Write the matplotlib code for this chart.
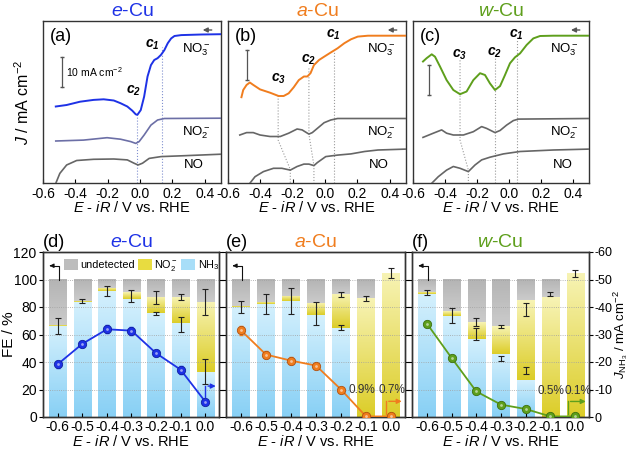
import numpy as np
import matplotlib
matplotlib.use("Agg")
import matplotlib.pyplot as plt
from matplotlib.colors import LinearSegmentedColormap
from matplotlib.patches import Patch

plt.rcParams['font.family'] = ['Liberation Sans', 'DejaVu Sans']
plt.rcParams['mathtext.fontset'] = 'custom'
plt.rcParams['mathtext.rm'] = 'Liberation Sans'
plt.rcParams['mathtext.it'] = 'Liberation Sans:italic'
plt.rcParams['mathtext.bf'] = 'Liberation Sans:italic:bold'
plt.rcParams['axes.unicode_minus'] = False

# ---------------- LSV curves (J with stacking offsets, mA cm-2) ----------------
a_no3_x = [-0.521, -0.454, -0.371, -0.2875, -0.225, -0.1625, -0.121, -0.079, -0.048, -0.027, -0.017,
           0.004, 0.025, 0.046, 0.067, 0.0875, 0.108, 0.129, 0.15, 0.171, 0.192, 0.2125, 0.254, 0.379, 0.5]
a_no3_y = [25.6, 26.1, 27.2, 27.8, 28.0, 27.6, 26.7, 25.6, 24.2, 23.0, 22.8,
           24.4, 28.9, 35.6, 39.4, 41.1, 41.7, 42.8, 44.4, 46.7, 48.3, 49.1, 49.4, 49.6, 49.7]
a_no2_x = [-0.521, -0.35, -0.204, -0.121, -0.058, -0.027, -0.006, 0.025, 0.067, 0.108, 0.15, 0.5]
a_no2_y = [14.1, 14.4, 15.2, 14.7, 13.9, 13.3, 13.9, 16.1, 19.4, 21.1, 21.6, 21.7]
a_no_x = [-0.521, -0.496, -0.454, -0.392, -0.2875, -0.1625, -0.079, -0.0375, -0.0125, 0.015, 0.056,
          0.129, 0.275, 0.5]
a_no_y = [0.0, 3.3, 6.1, 7.6, 8.0, 8.1, 7.8, 6.7, 6.1, 6.7, 8.3, 8.9, 9.2, 9.7]

b_no3_x = [-0.517, -0.506, -0.485, -0.465, -0.444, -0.402, -0.340, -0.2875, -0.256, -0.225, -0.194,
           -0.1625, -0.131, -0.110, -0.090, -0.069, -0.0375, -0.006, 0.035, 0.077, 0.119, 0.160,
           0.202, 0.265, 0.5]
b_no3_y = [28.7, 31.1, 32.8, 33.6, 32.8, 31.3, 30.2, 29.1, 29.1, 30.0, 32.0, 34.4, 35.6, 35.6, 36.7,
           39.4, 41.1, 42.2, 43.6, 45.0, 46.7, 48.0, 48.9, 49.2, 49.2]
b_no2_x = [-0.527, -0.485, -0.444, -0.402, -0.340, -0.277, -0.225, -0.173, -0.142, -0.1, -0.079,
           -0.048, -0.006, 0.035, 0.077, 0.5]
b_no2_y = [16.1, 16.9, 16.9, 16.1, 15.6, 15.6, 16.7, 18.1, 17.8, 16.4, 16.9, 18.3, 20.2, 21.1, 21.6, 21.6]
b_no_x = [-0.465, -0.433, -0.381, -0.319, -0.267, -0.215, -0.173, -0.131, -0.1, -0.069, -0.048,
          0.004, 0.077, 0.160, 0.244, 0.327, 0.5]
b_no_y = [0.0, 2.2, 3.9, 5.0, 5.0, 4.4, 5.6, 6.4, 6.4, 5.9, 6.9, 8.9, 9.4, 9.8, 10.6, 11.1, 11.4]

c_no3_x = [-0.5375, -0.515, -0.483, -0.4625, -0.431, -0.390, -0.348, -0.306, -0.265, -0.223, -0.181,
           -0.15, -0.119, -0.0875, -0.056, -0.025, 0.006, 0.0375, 0.069, 0.110, 0.152, 0.194, 0.277, 0.5]
c_no3_y = [40.6, 41.7, 43.0, 42.2, 38.9, 34.4, 31.1, 29.7, 30.6, 34.4, 36.7, 36.1, 33.3, 31.1, 32.4,
           36.1, 40.0, 42.0, 43.3, 46.1, 48.3, 49.1, 49.2, 49.2]
c_no2_x = [-0.5375, -0.473, -0.421, -0.390, -0.348, -0.285, -0.223, -0.171, -0.140, -0.0875, -0.056,
           -0.015, 0.027, 0.058, 0.5]
c_no2_y = [15.3, 16.7, 17.8, 16.7, 16.1, 16.1, 17.2, 18.9, 18.3, 16.9, 17.6, 19.4, 20.9, 21.4, 21.6]
c_no_x = [-0.483, -0.442, -0.390, -0.348, -0.306, -0.254, -0.2125, -0.171, -0.119, -0.035, 0.069,
          0.277, 0.5]
c_no_y = [0.0, 2.2, 4.4, 5.6, 5.0, 3.9, 6.1, 7.8, 8.7, 9.8, 10.6, 11.1, 11.4]

# ---------------- FE bars ----------------
volt = [-0.6, -0.5, -0.4, -0.3, -0.2, -0.1, 0.0]

nh3_e = [66.0, 83.5, 91.5, 86.0, 75.5, 68.5, 32.7]
no2_e = [0.8, 1.2, 2.5, 5.0, 12.0, 18.5, 51.0]
nh3_a = [80.0, 82.0, 84.0, 74.0, 64.4, 0.0, 0.0]
no2_a = [1.0, 1.5, 4.0, 9.0, 25.0, 86.5, 104.6]
nh3_w = [89.4, 73.4, 57.0, 46.0, 27.0, 0.0, 0.0]
no2_w = [1.6, 3.6, 12.0, 20.0, 58.0, 87.0, 104.4]

# error bars (center, half range); 0 half range = no bar
eb1_y_e = [66.2, 84.2, 91.4, 87.9, 87.0, 87.3, 83.7]
eb1_d_e = [6.0, 1.4, 3.6, 4.3, 4.5, 2.0, 9.7]
eb2_y_e = [0, 0, 0, 0, 75.3, 67.3, 33.3]
eb2_d_e = [0, 0, 0, 0, 1.0, 5.5, 9.1]
eb1_y_a = [80.1, 82.3, 84.5, 75.5, 89.2, 86.3, 104.7]
eb1_d_a = [4.6, 7.3, 9.5, 8.5, 1.6, 2.0, 3.5]
eb2_y_a = [0, 0, 0, 0, 64.8, 0, 0]
eb2_d_a = [0, 0, 0, 0, 1.8, 0, 0]
eb1_y_w = [90.6, 73.8, 69.3, 65.8, 78.0, 89.5, 104.5]
eb1_d_w = [1.7, 5.3, 2.8, 1.0, 4.7, 1.5, 2.5]
eb2_y_w = [0, 0, 60.5, 42.6, 34.0, 0, 0]
eb2_d_w = [0, 0, 4.3, 2.0, 2.5, 0, 0]

# NH3 partial current density, mA cm-2
j_e = [-19.2, -26.6, -31.9, -31.4, -23.2, -17.2, -5.6]
j_a = [-31.5, -22.7, -20.5, -18.7, -10.0, -0.2, -0.2]
j_w = [-34.0, -21.5, -9.3, -4.5, -2.9, -0.2, -0.2]
jerr_e = [1.2, 1.0, 1.5, 1.5, 1.0, 1.5, 0.6]
jerr_a = [1.5, 1.2, 1.2, 0.8, 0.6, 0.2, 0.2]
jerr_w = [0.8, 1.0, 0.6, 0.5, 0.4, 0.2, 0.2]

C_E, C_A, C_W = '#1e32e6', '#f07d1e', '#5e9f1c'

fig = plt.figure(figsize=(6.33, 4.51), dpi=100)


def px_axes(l, t, r, b):
    return fig.add_axes([l / 633, 1 - b / 451, (r - l) / 633, (b - t) / 451])


# cmap(0) = top of segment, cmap(1) = bottom of segment
cm_blue = LinearSegmentedColormap.from_list('b', ['#d4f0fd', '#88d0f5'])
cm_yel = LinearSegmentedColormap.from_list('y', ['#f7f3b4', '#dccd28'])
cm_gray = LinearSegmentedColormap.from_list('g', ['#b4b4b4', '#cbcbcb'])
grad = np.linspace(1, 0, 64).reshape(-1, 1)


def grad_bar(ax, x, y0, y1, cmap, w=0.07):
    if y1 - y0 <= 0.05:
        return
    ax.imshow(grad, cmap=cmap, aspect='auto', origin='lower', interpolation='bilinear',
              extent=(x - w / 2, x + w / 2, y0, y1), zorder=1)


def style_spines(ax):
    for s in ax.spines.values():
        s.set_color('#333333')
        s.set_linewidth(1.0)


# ---------------- top row ----------------
top = [
    ((43, 20.7, 221, 183.3), '(a)', r'$\it{e}$-Cu', C_E,
     [(a_no3_x, a_no3_y, C_E), (a_no2_x, a_no2_y, '#6c6fa6'), (a_no_x, a_no_y, '#666666')]),
    ((228, 20.7, 406, 183.3), '(b)', r'$\it{a}$-Cu', C_A,
     [(b_no3_x, b_no3_y, C_A), (b_no2_x, b_no2_y, '#666666'), (b_no_x, b_no_y, '#666666')]),
    ((413, 20.7, 589, 183.3), '(c)', r'$\it{w}$-Cu', C_W,
     [(c_no3_x, c_no3_y, C_W), (c_no2_x, c_no2_y, '#666666'), (c_no_x, c_no_y, '#666666')]),
]
top_axes = []
for pos, lab, title, col, curves in top:
    ax = px_axes(*pos)
    for x, y, c in curves:
        ax.plot(x, y, color=c, lw=1.4 if c == col else 1.2, zorder=3)
    ax.set_xlim(-0.6, 0.5)
    ax.set_ylim(0, 54.2)
    ax.set_xticks([-0.6, -0.4, -0.2, 0.0, 0.2, 0.4])
    ax.set_xticklabels(['-0.6', '-0.4', '-0.2', '0.0', '0.2', '0.4'])
    ax.set_yticks([])
    ax.tick_params(axis='x', direction='in', length=3, labelsize=10, pad=3)
    ax.set_xlabel(r'$E$ - $iR$ / V vs. RHE', fontsize=10.5)
    ax.xaxis.set_label_coords(0.5, -0.105)
    ax.text(0.5, 1.055, title, transform=ax.transAxes, ha='center', va='center', fontsize=14, color=col)
    ax.text(0.04, 0.9, lab, transform=ax.transAxes, ha='left', va='center', fontsize=13)
    ax.text(0.345, 44.4, r'NO$_3^-$', fontsize=9.5, ha='center', va='center')
    ax.text(0.345, 16.7, r'NO$_2^-$', fontsize=9.5, ha='center', va='center')
    ax.text(0.335, 6.1, 'NO', fontsize=9.5, ha='center', va='center')
    ax.annotate('', xy=(0.37, 51.1), xytext=(0.46, 51.1),
                arrowprops=dict(arrowstyle='-|>', color='#555555', lw=1.0, mutation_scale=7))
    style_spines(ax)
    top_axes.append(ax)

axa, axb, axc = top_axes
axa.set_ylabel(r'$J$ / mA cm$^{-2}$', fontsize=11.5)
axa.yaxis.set_label_coords(-0.06, 0.5)

# scale bars (10 mA cm-2)
axa.plot([-0.48, -0.48], [32.2, 42.2], color='#555555', lw=0.9, marker='_', ms=3)
axa.text(-0.455, 37.2, r'10 mA cm$^{-2}$', fontsize=7.5, va='center')
axb.plot([-0.485, -0.485], [34.4, 44.4], color='#555555', lw=0.9, marker='_', ms=3)
axc.plot([-0.498, -0.498], [29.4, 39.4], color='#555555', lw=0.9, marker='_', ms=3)

# dotted guide lines
kw_e = dict(color='#8090d0', lw=0.8, ls=':', zorder=2)
kw_g = dict(color='#9a9a9a', lw=0.8, ls=':', zorder=2)
axa.plot([-0.017, -0.017], [0, 22.5], **kw_e)
axa.plot([0.133, 0.133], [0, 45.5], **kw_e)
axa.text(0.077, 46.1, r'$\mathbf{c}_\mathbf{1}$', fontsize=10, ha='center', va='center')
axa.text(-0.04, 31.0, r'$\mathbf{c}_\mathbf{2}$', fontsize=10, ha='center', va='center')

axb.plot([0.056, 0.056], [0, 44.4], **kw_g)
axb.plot([-0.1, -0.1, -0.069, -0.069], [38.3, 16.4, 5.9, 0], **kw_g)
axb.plot([-0.29, -0.29, -0.215, -0.215], [29.2, 14.4, 4.6, 0], **kw_g)
axb.text(0.052, 49.4, r'$\mathbf{c}_\mathbf{1}$', fontsize=10, ha='center', va='center')
axb.text(-0.1, 41.1, r'$\mathbf{c}_\mathbf{2}$', fontsize=10, ha='center', va='center')
axb.text(-0.2875, 34.7, r'$\mathbf{c}_\mathbf{3}$', fontsize=10, ha='center', va='center')

axc.plot([0.048, 0.048], [0, 48.0], **kw_g)
axc.plot([-0.09, -0.09], [0, 42.0], **kw_g)
axc.plot([-0.306, -0.306, -0.254, -0.254], [41.0, 14.4, 4.4, 0], **kw_g)
axc.text(0.044, 49.4, r'$\mathbf{c}_\mathbf{1}$', fontsize=10, ha='center', va='center')
axc.text(-0.09, 43.6, r'$\mathbf{c}_\mathbf{2}$', fontsize=10, ha='center', va='center')
axc.text(-0.306, 42.8, r'$\mathbf{c}_\mathbf{3}$', fontsize=10, ha='center', va='center')

# ---------------- bottom row ----------------
bot = [
    ((43, 252, 219, 417), '(d)', r'$\it{e}$-Cu', C_E, nh3_e, no2_e,
     (eb1_y_e, eb1_d_e, eb2_y_e, eb2_d_e), j_e, jerr_e, '#1020a0'),
    ((226, 252, 405, 417), '(e)', r'$\it{a}$-Cu', C_A, nh3_a, no2_a,
     (eb1_y_a, eb1_d_a, eb2_y_a, eb2_d_a), j_a, jerr_a, '#b05010'),
    ((412, 252, 589, 417), '(f)', r'$\it{w}$-Cu', C_W, nh3_w, no2_w,
     (eb1_y_w, eb1_d_w, eb2_y_w, eb2_d_w), j_w, jerr_w, '#3c7010'),
]
bot_axes = []
for i, (pos, lab, title, col, nh3, no2, ebs, j, jerr, dark) in enumerate(bot):
    ax = px_axes(*pos)
    for k, v in enumerate(volt):
        tot = nh3[k] + no2[k]
        grad_bar(ax, v, 0, nh3[k], cm_blue)
        grad_bar(ax, v, nh3[k], tot, cm_yel)
        grad_bar(ax, v, tot, 100, cm_gray)
    y1, d1, y2, d2 = ebs
    for yy, dd in ((y1, d1), (y2, d2)):
        xs = [v for v, e in zip(volt, dd) if e > 0]
        ys = [c for c, e in zip(yy, dd) if e > 0]
        es = [e for e in dd if e > 0]
        ax.errorbar(xs, ys, yerr=es, fmt='none', ecolor='#222222', elinewidth=0.8,
                    capsize=2, capthick=0.8, zorder=4)
    ax.set_xlim(-0.66, 0.056)
    ax.set_ylim(0, 120)
    ax.set_xticks(volt)
    ax.set_xticklabels(['-0.6', '-0.5', '-0.4', '-0.3', '-0.2', '-0.1', '0.0'])
    ax.set_yticks(np.arange(0, 121, 20))
    ax.grid(axis='y', ls=':', color='#a0a0a0', lw=0.6)
    ax.set_axisbelow(False)
    ax.tick_params(axis='x', direction='in', length=3, labelsize=10, pad=2)
    ax.tick_params(axis='y', direction='out', length=3, labelsize=10, pad=1.5)
    if i > 0:
        ax.tick_params(axis='y', labelleft=False)
    ax.set_xlabel(r'$E$ - $iR$ / V vs. RHE', fontsize=10.5)
    ax.xaxis.set_label_coords(0.5, -0.1)
    ax.text(0.5, 1.06, title, transform=ax.transAxes, ha='center', va='center', fontsize=14, color=col)
    ax.text(0.0, 1.06, lab, transform=ax.transAxes, ha='left', va='center', fontsize=13)
    # left-axis arrow
    ax.plot([-0.595, -0.595, -0.62], [100, 110, 110], color='#111111', lw=0.8, zorder=5)
    ax.annotate('', xy=(-0.645, 110), xytext=(-0.615, 110),
                arrowprops=dict(arrowstyle='-|>', color='#111111', lw=0.8, mutation_scale=6))
    style_spines(ax)

    ax2 = ax.twinx()
    ax2.set_ylim(0, -60)
    ax2.set_yticks(np.arange(0, -61, -10))
    ax2.tick_params(axis='y', direction='out', length=3, labelsize=9, pad=1)
    if i < 2:
        ax2.tick_params(axis='y', labelright=False)
    ax2.errorbar(volt, j, yerr=jerr, fmt='none', ecolor=col, elinewidth=0.7, capsize=1.5, zorder=5)
    ax2.plot(volt, j, '-', color=col, lw=1.3, zorder=6)
    ax2.plot(volt, j, 'o', ms=6, mfc=col, mec=dark, mew=0.6, zorder=7)
    ax2.plot(volt, j, 'o', ms=2.0, mfc='white', mec='none', alpha=0.55, zorder=8)
    style_spines(ax2)
    bot_axes.append((ax, ax2))

axd, axe, axf = [a for a, _ in bot_axes]
axd.set_ylabel('FE / %', fontsize=11)
axd.yaxis.set_label_coords(-0.155, 0.5)
axf2 = bot_axes[2][1]
axf2.set_ylabel(r'$J_{\mathrm{NH_3}}$ / mA cm$^{-2}$', fontsize=9.5)
axf2.yaxis.set_label_coords(1.125, 0.5)

# right-axis arrows
arrow_specs = [(axd, 0.0, 14.5, 22.5, C_E), (axe, -0.02, 2.4, 11.4, C_A), (axf, -0.03, 2.4, 11.3, C_W)]
for ax, x0, ya, yb, col in arrow_specs:
    ax.plot([x0, x0], [ya, yb], color=col, lw=1.0, zorder=6)
    ax.annotate('', xy=(0.054, yb), xytext=(x0, yb),
                arrowprops=dict(arrowstyle='-|>', color=col, lw=1.0, mutation_scale=7), zorder=6)

axe.text(-0.116, 19.6, '0.9%', fontsize=8.5, ha='center', va='center', color='#333333', zorder=6)
axe.text(0.002, 19.6, '0.7%', fontsize=8.5, ha='center', va='center', color='#333333', zorder=6)
axf.text(-0.097, 19.1, '0.5%', fontsize=8.5, ha='center', va='center', color='#333333', zorder=6)
axf.text(0.011, 19.1, '0.1%', fontsize=8.5, ha='center', va='center', color='#333333', zorder=6)

handles = [Patch(facecolor='#bdbdbd', edgecolor='none', label='undetected'),
           Patch(facecolor='#e8dc40', edgecolor='none', label=r'NO$_2^-$'),
           Patch(facecolor='#a8def8', edgecolor='none', label=r'NH$_3$')]
axd.legend(handles=handles, loc='upper left', bbox_to_anchor=(0.08, 1.0), ncol=3, frameon=False,
           fontsize=7.8, handlelength=1.3, handleheight=1.2, columnspacing=0.25, handletextpad=0.25,
           borderaxespad=0.2)

fig.savefig('out.png', dpi=100)
